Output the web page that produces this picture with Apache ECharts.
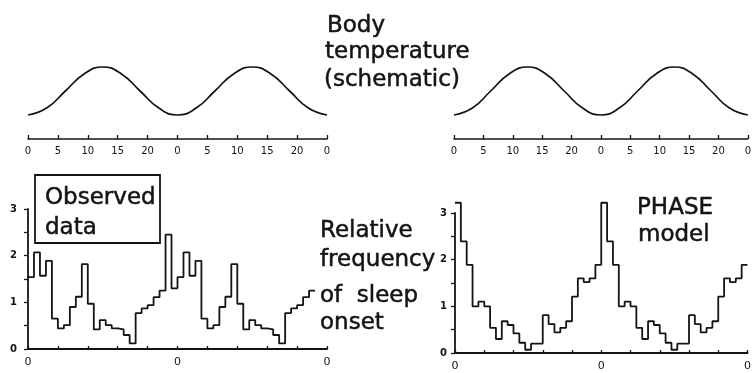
<!DOCTYPE html>
<html>
<head>
<meta charset="utf-8">
<script src="https://cdn.jsdelivr.net/npm/echarts@6/dist/echarts.min.js"></script>
<style>
  html, body { margin: 0; padding: 0; background: #fff; }
  #chart { width: 754px; height: 373px; }
</style>
</head>
<body>
<div id="chart"></div>
<script>
// Schematic body temperature over two 25-hour cycles (trough at phase 0)
const tempHours = [0, 3.125, 6.25, 9.375, 12.5, 15.625, 18.75, 21.875, 25,
                   28.125, 31.25, 34.375, 37.5, 40.625, 43.75, 46.875, 50];
const tempLevel = [-1, -0.71, 0, 0.71, 1, 0.71, 0, -0.71, -1,
                   -0.71, 0, 0.71, 1, 0.71, 0, -0.71, -1];
const hourTickLabels = ['0', '5', '10', '15', '20', '0', '5', '10', '15', '20', '0'];

// Relative frequency of sleep onset, 25 bins per cycle (double-plotted)
const observedCycle = [1.54, 2.07, 1.57, 1.89, 0.65, 0.44, 0.51, 0.90, 1.12, 1.82,
                       0.97, 0.42, 0.62, 0.51, 0.44, 0.42, 0.30, 0.12, 0.77, 0.87,
                       0.94, 1.11, 1.25, 2.45, 1.30];
const phaseModelCycle = [3.22, 2.39, 1.89, 1.00, 1.10, 1.00, 0.54, 0.30, 0.68, 0.60,
                         0.42, 0.22, 0.07, 0.20, 0.20, 0.81, 0.62, 0.44, 0.54, 0.68,
                         1.21, 1.60, 1.52, 1.60, 1.89];
const observedBinCount = 48;   // the observed record stops before the end of cycle two
const modelBinCount = 50;
const freqTickLabels = ['0', '1', '2', '3'];
const phaseTickLabel = '0';

const INK = '#141414';
const FONT = 'DejaVu Sans';

// step outline: one point per bin left edge plus the closing edge
function binOutline(cycle, count) {
  const pts = [];
  for (let i = 0; i < count; i++) pts.push([i, cycle[i % cycle.length]]);
  pts.push([count, cycle[(count - 1) % cycle.length]]);
  return pts;
}

const curveData = tempHours.map((h, i) => [h, tempLevel[i]]);

function hourAxis(gridIndex) {
  return {
    type: 'value', gridIndex, min: 0, max: 50, interval: 5,
    position: 'bottom', offset: 24,
    axisLine: { show: true, onZero: false, lineStyle: { color: INK, width: 1.6 } },
    axisTick: { show: true, inside: true, length: 4, lineStyle: { color: INK, width: 1.3 } },
    axisLabel: {
      color: INK, fontFamily: FONT, fontSize: 10, margin: 7,
      formatter: v => hourTickLabels[Math.round(v / 5)]
    },
    splitLine: { show: false }
  };
}
function binAxis(gridIndex) {
  return {
    type: 'value', gridIndex, min: 0, max: 50, interval: 5,
    axisLine: { show: true, onZero: false, lineStyle: { color: INK, width: 1.8 } },
    axisTick: { show: true, inside: true, length: 3, lineStyle: { color: INK, width: 1.3 } },
    axisLabel: {
      color: INK, fontFamily: FONT, fontSize: 11, margin: 8,
      formatter: v => (v % 25 === 0 ? phaseTickLabel : '')
    },
    splitLine: { show: false }
  };
}
function freqAxis(gridIndex, margin) {
  return {
    type: 'value', gridIndex, min: 0, max: 3, interval: 0.5,
    axisLine: { show: true, lineStyle: { color: INK, width: 1.8 } },
    axisTick: { show: true, length: 4, lineStyle: { color: INK, width: 1.3 } },
    axisLabel: {
      color: INK, fontFamily: FONT, fontSize: 10, fontWeight: 'bold', margin,
      formatter: v => (v % 1 === 0 ? freqTickLabels[v] : '')
    },
    splitLine: { show: false }
  };
}
function levelAxis(gridIndex) {
  return { type: 'value', gridIndex, min: -1, max: 1, show: false };
}

function label(text, x, y) {
  return {
    type: 'text', x, y,
    style: {
      text, font: '23px "' + FONT + '"', fill: INK,
      stroke: INK, lineWidth: 0.5,
      textAlign: 'left', textVerticalAlign: 'middle'
    }
  };
}

const chart = echarts.init(document.getElementById('chart'), null, { renderer: 'canvas' });
chart.setOption({
  backgroundColor: '#ffffff',
  animation: false,
  grid: [
    { left: 28, width: 299, top: 67, height: 48 },
    { left: 454, width: 299, top: 67, height: 48 },
    { left: 28, width: 299, top: 209, height: 140 },
    { left: 455, width: 299, top: 213, height: 140 }
  ],
  xAxis: [hourAxis(0), hourAxis(1), binAxis(2), binAxis(3)],
  yAxis: [levelAxis(0), levelAxis(1), freqAxis(2, 11), freqAxis(3, 8)],
  series: [
    { type: 'line', xAxisIndex: 0, yAxisIndex: 0, data: curveData, smooth: true,
      showSymbol: false, clip: false, lineStyle: { color: INK, width: 1.7 } },
    { type: 'line', xAxisIndex: 1, yAxisIndex: 1, data: curveData, smooth: true,
      showSymbol: false, clip: false, lineStyle: { color: INK, width: 1.7 } },
    { type: 'line', xAxisIndex: 2, yAxisIndex: 2, data: binOutline(observedCycle, observedBinCount),
      step: 'end', showSymbol: false, clip: false, lineStyle: { color: INK, width: 1.8 } },
    { type: 'line', xAxisIndex: 3, yAxisIndex: 3, data: binOutline(phaseModelCycle, modelBinCount),
      step: 'end', showSymbol: false, clip: false, lineStyle: { color: INK, width: 1.8 } }
  ],
  graphic: [
    label('Body', 327, 26),
    label('temperature', 325, 52),
    label('(schematic)', 324, 80),
    { type: 'rect', shape: { x: 35, y: 175, width: 125, height: 68 },
      style: { fill: 'none', stroke: INK, lineWidth: 1.8 } },
    label('Observed', 45, 198),
    label('data', 45, 228),
    label('Relative', 320, 231),
    label('frequency', 320, 260),
    label('of  sleep', 320, 296),
    label('onset', 320, 323),
    label('PHASE', 637, 208),
    label('model', 638, 235)
  ]
});
</script>
</body>
</html>
